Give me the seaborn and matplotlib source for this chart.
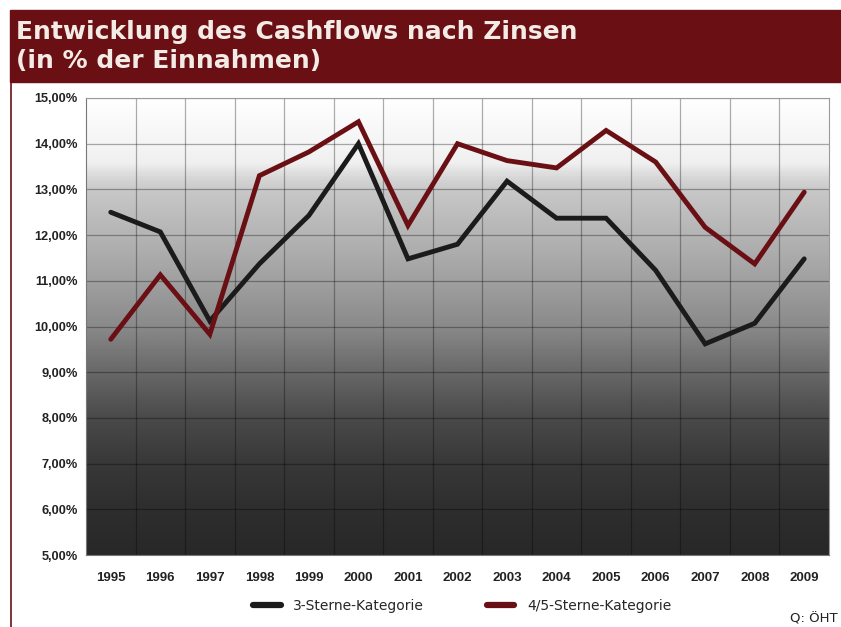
import numpy as np
import pandas as pd
import matplotlib
matplotlib.use("Agg")
import matplotlib.pyplot as plt
from matplotlib.colors import LinearSegmentedColormap
from matplotlib.ticker import FixedLocator, FuncFormatter
import seaborn as sns

# Daten
jahre = ["1995", "1996", "1997", "1998", "1999", "2000", "2001", "2002",
         "2003", "2004", "2005", "2006", "2007", "2008", "2009"]
drei_sterne = [12.50, 12.07, 10.12, 11.37, 12.43, 14.00, 11.48, 11.80,
               13.18, 12.37, 12.37, 11.23, 9.62, 10.07, 11.48]
vier_fuenf_sterne = [9.72, 11.13, 9.83, 13.30, 13.82, 14.48, 12.21, 14.00,
                     13.63, 13.47, 14.29, 13.60, 12.17, 11.37, 12.94]
serien = ["3-Sterne-Kategorie", "4/5-Sterne-Kategorie"]

df = pd.DataFrame({
    "Jahr": jahre * 2,
    "Wert": drei_sterne + vier_fuenf_sterne,
    "Kategorie": [serien[0]] * len(jahre) + [serien[1]] * len(jahre),
})
df["pos"] = df["Jahr"].map({j: i for i, j in enumerate(jahre)})

dunkelrot = "#6a1015"
farben = {serien[0]: "#1b1b1b", serien[1]: "#6a1015"}

sns.set_style("white")
plt.rcParams["font.family"] = ["DejaVu Sans"]

fig = plt.figure(figsize=(8.41, 6.27), dpi=100)
fig.patch.set_facecolor("white")

# Titelbalken
fig.patches.append(plt.Rectangle((10 / 841, 1 - 82 / 627), 1, 72 / 627,
                                 transform=fig.transFigure, color=dunkelrot, zorder=0))
fig.text(16 / 841, 1 - 32 / 627, "Entwicklung des Cashflows nach Zinsen",
         color="#f3ece6", fontsize=18, fontweight="bold", va="center", ha="left")
fig.text(16 / 841, 1 - 61 / 627, "(in % der Einnahmen)",
         color="#f3ece6", fontsize=18, fontweight="bold", va="center", ha="left")
# linker Rahmen
fig.lines.append(plt.Line2D([10.5 / 841, 10.5 / 841], [0, 1 - 82 / 627],
                            transform=fig.transFigure, color=dunkelrot, lw=1.2))

ax = fig.add_axes([86 / 841, 72 / 627, 743 / 841, 457 / 627])

# Hintergrundverlauf
stops = [(0.0, "#282828"), (0.1, "#2e2e2e"), (0.2, "#383838"), (0.3, "#4a4a4a"),
         (0.4, "#686868"), (0.5, "#8a8a8a"), (0.6, "#a0a0a0"), (0.7, "#b4b4b4"),
         (0.8, "#c8c8c8"), (0.83, "#d8d8d8"), (0.86, "#f0f0f0"), (1.0, "#ffffff")]
cmap = LinearSegmentedColormap.from_list("verlauf", stops)
grad = np.linspace(0, 1, 400).reshape(-1, 1)
ax.imshow(grad, extent=[0, 1, 0, 1], transform=ax.transAxes, aspect="auto",
          cmap=cmap, origin="lower", zorder=0)

sns.lineplot(data=df, x="pos", y="Wert", hue="Kategorie", palette=farben,
             linewidth=3.5, ax=ax, legend=False, zorder=3)
for l in ax.lines:
    l.set_solid_joinstyle("miter")

ax.set_xlim(-0.5, len(jahre) - 0.5)
ax.set_ylim(5, 15)
ax.set_xticks(range(len(jahre)))
ax.set_xticklabels(jahre)
ax.xaxis.set_minor_locator(FixedLocator(np.arange(-0.5, len(jahre), 1.0)))
ax.set_yticks(np.arange(5, 15.01, 1))
ax.yaxis.set_major_formatter(FuncFormatter(lambda v, p: f"{v:.2f}".replace(".", ",") + "%"))

ax.grid(False)
for x in np.arange(0.5, len(jahre) - 0.5, 1.0):
    ax.axvline(x, color="black", alpha=0.32, lw=0.9, zorder=1)
for y in np.arange(6, 15.01, 1):
    ax.axhline(y, color="black", alpha=0.32, lw=0.9, zorder=1)

ax.tick_params(axis="x", which="major", length=0, pad=12, labelsize=9.5)
ax.tick_params(axis="x", which="minor", length=3, color="#777777", direction="out")
ax.tick_params(axis="y", length=3, color="#777777", pad=3, labelsize=9.2)
for lab in ax.get_xticklabels() + ax.get_yticklabels():
    lab.set_fontfamily("Liberation Sans")
    lab.set_fontweight("bold")
    lab.set_color("#222222")

for s in ["top", "right"]:
    ax.spines[s].set_color("#9a9a9a")
    ax.spines[s].set_linewidth(0.8)
for s in ["left", "bottom"]:
    ax.spines[s].set_color("#777777")
    ax.spines[s].set_linewidth(0.8)
ax.set_xlabel("")
ax.set_ylabel("")

handles = [plt.Line2D([], [], color=farben[s], lw=4.5) for s in serien]
fig.legend(handles, serien, loc="center", ncol=2, frameon=False,
           bbox_to_anchor=(462 / 841, 1 - 606 / 627), columnspacing=4.5,
           handlelength=2.0, handletextpad=0.9, fontsize=10)

fig.text(838 / 841, 1 - 619 / 627, "Q: ÖHT", ha="right", va="center",
         fontsize=9.5, color="#222222")

fig.savefig("out.png", dpi=100)
